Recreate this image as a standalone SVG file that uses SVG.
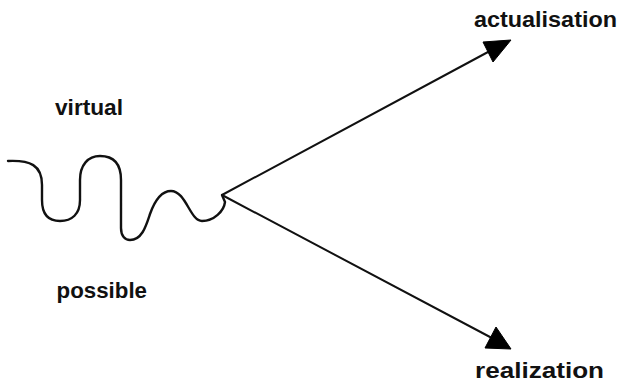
<svg xmlns="http://www.w3.org/2000/svg" width="619" height="385" viewBox="0 0 619 385">
<style>
.lbl{font-family:"Liberation Sans",Arial,Helvetica,sans-serif;font-weight:bold;font-size:22px;fill:#111}
.ln{fill:none;stroke:#111;stroke-width:2;stroke-linecap:round;stroke-linejoin:round}
.wave{fill:none;stroke:#111;stroke-width:2.4;stroke-linecap:round;stroke-linejoin:round}
.head{fill:#000;stroke:#000;stroke-width:1;stroke-linejoin:round}
</style>
<rect width="619" height="385" fill="#fff"/>
<g id="connectors">
<path class="wave" d="M8,161 C30,160 42,165 42,185 L42,200 C42,216 50,221 60,221 C72,221 80,214 80,200 L80,180 C80,165 88,156 100,156 C115,156 121,165 121,180 L121,228 C121,236 125,240 130,240 C142,240 146,226 150,214 C155,200 162,191 171,191 C186,191 190,221 202,221 C214,221 224,211 225,202 L222,195"/>
<path class="ln" d="M222,195 L488,52"/>
<path class="ln" d="M222,195 L490,337"/>
<polygon class="head" points="483,42 511,40 493,62"/>
<polygon class="head" points="496,327 511,349 485,348"/>
</g>
<g id="node-virtual"><text class="lbl" x="55" y="114.5" textLength="68" lengthAdjust="spacingAndGlyphs">virtual</text></g>
<g id="node-possible"><text class="lbl" x="56.5" y="298" textLength="90.5" lengthAdjust="spacingAndGlyphs">possible</text></g>
<g id="node-actualisation"><text class="lbl" x="474" y="27" textLength="143" lengthAdjust="spacingAndGlyphs">actualisation</text></g>
<g id="node-realization"><text class="lbl" x="475" y="377.5" textLength="129" lengthAdjust="spacingAndGlyphs">realization</text></g>
</svg>
